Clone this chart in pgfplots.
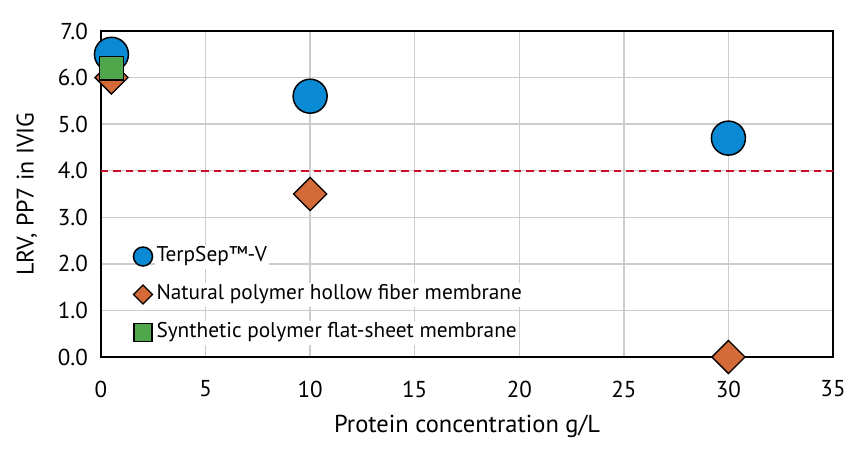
\documentclass[border=0pt]{standalone}
\usepackage{pgfplots}
\pgfplotsset{compat=1.18}
\usepackage{fontspec}
\setmainfont{PT Sans}

\definecolor{terpblue}{HTML}{0A8AD4}
\definecolor{natorange}{HTML}{D46A38}
\definecolor{synthgreen}{HTML}{4FA64B}
\definecolor{limitred}{HTML}{C8102E}
\definecolor{gridgray}{HTML}{CCCCCC}

\begin{document}
\begin{tikzpicture}[font=\fontsize{23bp}{27bp}\selectfont]
\useasboundingbox (-101bp,-99bp) rectangle (763bp,357bp);
\begin{axis}[
  scale only axis,
  width=732bp, height=326bp,
  xmin=0, xmax=35, ymin=0, ymax=7,
  xtick={0,5,...,35},
  ytick={0,1,...,7},
  yticklabel style={/tikz/anchor=east, /tikz/inner sep=0pt, /tikz/xshift=-13bp,
    /pgf/number format/fixed, /pgf/number format/fixed zerofill, /pgf/number format/precision=1},
  xticklabel style={anchor=center, inner sep=0pt, yshift=-32bp},
  /pgf/number format/assume math mode=true,
  major tick length=0pt,
  grid=major,
  major grid style={draw=gridgray, line width=1.5bp},
  axis line style={line width=2.5bp, black},
  xlabel={Protein concentration g/L},
  ylabel={LRV, PP7 in IVIG},
  xlabel style={at={(axis description cs:0.5,-0.2117)}, anchor=center, inner sep=0pt,
    font=\fontsize{24.5bp}{28bp}\selectfont},
  ylabel style={at={(axis description cs:-0.1011,0.5)}, anchor=center, inner sep=0pt,
    font=\fontsize{24bp}{28bp}\selectfont},
  clip=false,
  legend cell align=left,
  legend style={draw=none, fill=none, inner sep=0pt, outer sep=0pt,
    at={(axis description cs:0.0444,0.345)}, anchor=north west,
    nodes={fill=white, inner sep=2bp, text height=15bp, text depth=5bp},
    row sep=14bp, column sep=2bp,
    font=\fontsize{21.3bp}{25bp}\selectfont},
]
\addplot[limitred, line width=2bp, dash pattern=on 7.5bp off 5bp, forget plot]
  coordinates {(0,4) (35,4)};

\addplot[only marks, mark=*, mark size=17bp, fill=terpblue, draw=black, line width=1.5bp,
  legend image code/.code={\draw[mark size=9.5bp] plot[only marks, mark=*] coordinates {(0bp,0bp)};}]
  coordinates {(0.5,6.5) (10,5.6) (30,4.7)};
\addlegendentry{TerpSep™-V}

\addplot[only marks, mark=square*, mark options={rotate=45}, mark size=11.7bp,
  fill=natorange, draw=black, line width=1.3bp,
  legend image code/.code={\draw[mark size=6.7bp] plot[only marks, mark=square*] coordinates {(0bp,0bp)};}]
  coordinates {(0.5,6.0) (10,3.5) (30,0)};
\addlegendentry{Natural polymer hollow fiber membrane}

\addplot[only marks, mark=square*, mark size=11.7bp, fill=synthgreen, draw=black, line width=1.3bp,
  legend image code/.code={\draw[mark size=9bp] plot[only marks, mark=square*] coordinates {(0bp,0bp)};}]
  coordinates {(0.5,6.2)};
\addlegendentry{Synthetic polymer flat-sheet membrane}
\end{axis}
\end{tikzpicture}
\end{document}
